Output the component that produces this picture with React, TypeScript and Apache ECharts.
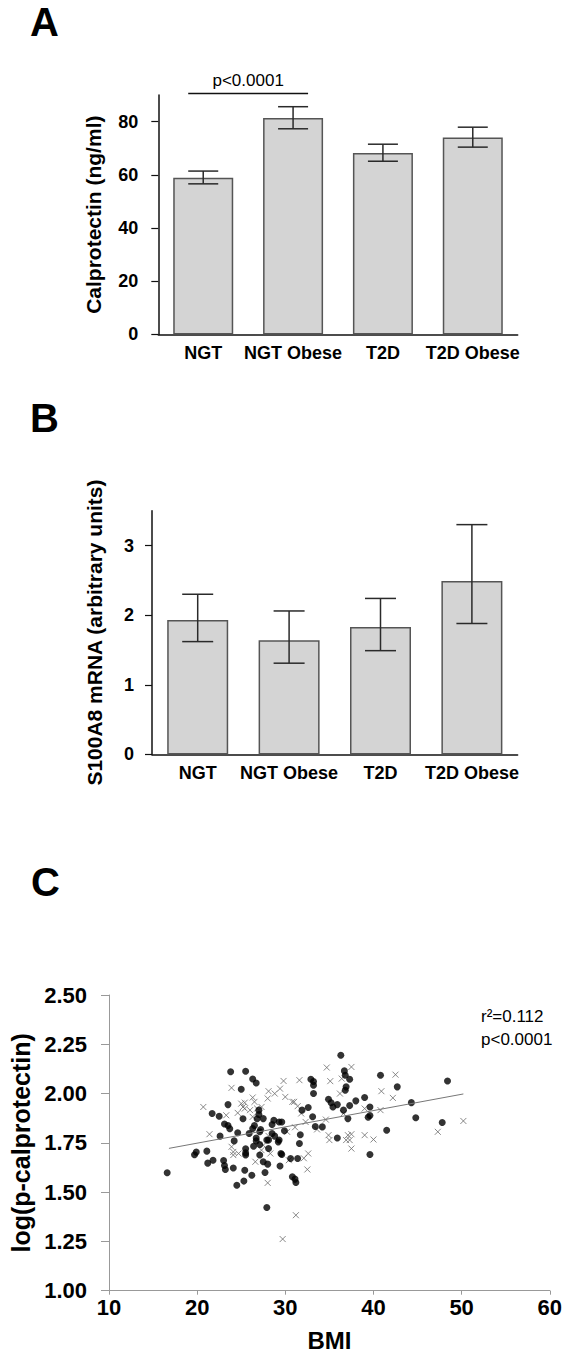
import React, { useEffect, useRef } from 'react';
import * as echarts from 'echarts';

// ---------- Data ----------
const categories = ['NGT', 'NGT Obese', 'T2D', 'T2D Obese'];

// Panel A: plasma calprotectin (ng/ml), mean and error bar ends
const calMean = [58.9, 81.4, 68.2, 74.0];
const calLow = [56.6, 77.3, 65.1, 70.4];
const calHigh = [61.4, 85.6, 71.5, 77.9];
const calTicks = [0, 20, 40, 60, 80];
const sigPair = [0, 1];
const sigLevel = 90.6;
const sigText = 'p<0.0001';

// Panel B: S100A8 mRNA (arbitrary units)
const s100Mean = [1.93, 1.64, 1.83, 2.49];
const s100Low = [1.62, 1.31, 1.49, 1.88];
const s100High = [2.3, 2.06, 2.24, 3.3];
const s100Ticks = [0, 1, 2, 3];

// Panel C: BMI vs log(p-calprotectin)
const bmiDots: number[][] = [
  [16.6, 1.598], [19.7, 1.69], [19.9, 1.703], [21.1, 1.708], [21.2, 1.647], [21.8, 1.662],
  [21.7, 1.899], [22.6, 1.784], [22.5, 1.885], [23.0, 1.66], [23.1, 1.635], [23.2, 1.615],
  [23.1, 1.846], [23.5, 1.838], [23.7, 1.822], [23.5, 1.944], [23.8, 2.111], [24.1, 1.622],
  [24.2, 1.76], [24.5, 1.535], [24.6, 1.801], [25.0, 2.022], [25.2, 1.872], [25.3, 1.556],
  [25.4, 1.611], [25.5, 1.72], [25.5, 1.699], [25.5, 1.688], [25.5, 2.113], [26.2, 1.586],
  [26.3, 2.074], [26.7, 2.054], [25.9, 1.797], [26.3, 1.823], [26.5, 1.838], [26.4, 1.733],
  [26.7, 1.775], [26.7, 1.76], [26.8, 1.872], [27.0, 1.916], [27.0, 1.894], [27.1, 1.688],
  [27.1, 1.806], [27.2, 1.818], [27.1, 1.742], [27.5, 1.654], [27.5, 1.873], [27.7, 1.6],
  [27.9, 1.422], [27.9, 1.764], [28.1, 1.764], [28.0, 1.642], [28.1, 1.721], [28.5, 1.797],
  [28.5, 1.843], [28.7, 1.865], [28.8, 1.784], [29.2, 1.755], [29.3, 1.764], [29.3, 1.856],
  [29.6, 1.856], [29.4, 1.633], [29.5, 1.696], [29.6, 1.691], [29.9, 1.811], [30.6, 1.671],
  [30.8, 1.578], [31.2, 1.549], [31.1, 1.566], [31.4, 1.671], [31.6, 1.747], [31.7, 1.791],
  [31.9, 1.916], [32.6, 1.929], [32.9, 2.073], [33.2, 2.061], [33.2, 2.042], [33.1, 1.882],
  [33.2, 2.0], [33.4, 1.833], [34.2, 1.831], [34.9, 1.971], [35.2, 1.953], [35.4, 1.932],
  [35.9, 1.944], [35.9, 1.775], [36.3, 2.194], [36.6, 1.916], [36.7, 2.115], [36.8, 2.093],
  [36.8, 2.017], [36.9, 2.034], [37.1, 1.873], [37.3, 1.939], [37.3, 2.073], [38.0, 1.963],
  [39.0, 1.98], [39.4, 1.88], [39.6, 1.932], [39.6, 1.889], [39.6, 1.691], [40.8, 2.093],
  [41.5, 1.814], [42.7, 2.034], [44.3, 1.954], [44.8, 1.877], [47.8, 1.853], [48.4, 2.064],
];
const bmiCrosses: number[][] = [
  [20.7, 1.932], [21.4, 1.794], [23.3, 1.89], [23.9, 2.029], [23.9, 1.73], [24.1, 1.704],
  [24.1, 1.688], [24.7, 1.696], [25.0, 1.949], [25.2, 1.932], [25.4, 1.954], [25.4, 1.924],
  [24.6, 1.902], [26.3, 1.98], [26.5, 1.958], [26.0, 1.916], [26.3, 1.882], [26.8, 1.924],
  [26.6, 1.654], [27.3, 1.932], [27.3, 1.713], [27.5, 1.738], [28.0, 1.547], [28.0, 1.975],
  [28.1, 2.012], [28.3, 1.696], [28.1, 1.785], [28.8, 2.0], [29.4, 2.025], [29.8, 2.064],
  [30.0, 1.983], [30.2, 1.806], [30.4, 1.662], [30.8, 1.958], [31.0, 1.958], [31.1, 1.829],
  [31.4, 1.936], [31.6, 2.068], [31.2, 1.383], [29.7, 1.262], [31.8, 1.899], [32.3, 1.856],
  [32.5, 1.615], [32.6, 1.696], [32.1, 1.672], [33.6, 1.818], [34.6, 1.868], [34.7, 2.132],
  [34.9, 1.789], [35.0, 1.764], [35.1, 2.063], [36.2, 2.0], [36.4, 2.076], [36.6, 1.899],
  [36.9, 1.764], [37.1, 1.789], [37.3, 1.764], [37.5, 2.135], [37.5, 1.794], [37.5, 1.721],
  [39.0, 1.789], [39.0, 1.924], [40.0, 1.767], [40.8, 1.916], [40.9, 2.012], [42.2, 1.978],
  [42.5, 2.096], [47.3, 1.806], [50.2, 1.861],
];
const regressionLine: number[][] = [[16.8, 1.722], [50.2, 1.998]];
const statsText = ['r\u00B2=0.112', 'p<0.0001'];
const panelLetters = ['A', 'B', 'C'];

// ---------- Styles ----------
const FONT = '"Liberation Sans", Arial, Helvetica, sans-serif';
const W = 565;
const H = 1362;
const CAP = 30;

function errorBarRender(cap: number) {
  return (params: any, api: any) => {
    const x = api.value(0);
    const lo = api.coord([x, api.value(1)]);
    const hi = api.coord([x, api.value(2)]);
    const half = cap / 2;
    const style = { stroke: '#2a2a2a', lineWidth: 1.5 };
    return {
      type: 'group',
      children: [
        { type: 'line', shape: { x1: lo[0], y1: lo[1], x2: hi[0], y2: hi[1] }, style },
        { type: 'line', shape: { x1: lo[0] - half, y1: lo[1], x2: lo[0] + half, y2: lo[1] }, style },
        { type: 'line', shape: { x1: hi[0] - half, y1: hi[1], x2: hi[0] + half, y2: hi[1] }, style },
      ],
    };
  };
}

function barAxisX(gridIndex: number) {
  return {
    type: 'category',
    gridIndex,
    data: categories,
    boundaryGap: true,
    axisLine: { lineStyle: { color: '#111', width: 1.5 } },
    axisTick: { alignWithLabel: true, length: 6, lineStyle: { color: '#111', width: 1.2 } },
    axisLabel: { color: '#000', fontFamily: FONT, fontWeight: 'bold', fontSize: 18, margin: 10, interval: 0 },
  };
}

function barAxisY(gridIndex: number, max: number, ticks: number[], name: string, nameGap: number, margin: number) {
  return {
    type: 'value',
    gridIndex,
    min: 0,
    max,
    interval: 1,
    name,
    nameLocation: 'middle',
    nameGap,
    nameRotate: 90,
    nameTextStyle: { color: '#000', fontFamily: FONT, fontWeight: 'bold', fontSize: 21 },
    splitLine: { show: false },
    axisLine: { show: true, lineStyle: { color: '#111', width: 1.5 } },
    axisTick: { show: true, length: 7, customValues: ticks, lineStyle: { color: '#111', width: 1.2 } },
    axisLabel: {
      color: '#000', fontFamily: FONT, fontWeight: 'bold', fontSize: 18, margin, customValues: ticks,
    },
  };
}

export default function App() {
  const ref = useRef<HTMLDivElement>(null);

  useEffect(() => {
    document.body.style.margin = '0';
    if (!ref.current) return;
    const chart = echarts.init(ref.current, null, { renderer: 'svg', width: W, height: H });

    const option: any = {
      animation: false,
      backgroundColor: '#fff',
      grid: [
        { left: 158.3, right: W - 517.7, top: 95, bottom: H - 334.4 },
        { left: 152, right: W - 517.6, top: 510.7, bottom: H - 754.4 },
        { left: 106, right: W - 551.6, top: 995, bottom: H - 1290.7 },
      ],
      xAxis: [
        barAxisX(0),
        barAxisX(1),
        {
          type: 'value',
          gridIndex: 2,
          min: 10,
          max: 60,
          interval: 10,
          name: 'BMI',
          nameLocation: 'middle',
          nameGap: 38,
          nameTextStyle: { color: '#000', fontFamily: FONT, fontWeight: 'bold', fontSize: 24 },
          splitLine: { show: false },
          axisLine: { lineStyle: { color: '#999', width: 1 } },
          axisTick: { length: 4, lineStyle: { color: '#999', width: 1 } },
          axisLabel: { color: '#000', fontFamily: FONT, fontWeight: 'bold', fontSize: 22, margin: 6 },
        },
      ],
      yAxis: [
        { ...barAxisY(0, 90, calTicks, 'Calprotectin (ng/ml)', 54, 20), interval: 20 },
        { ...barAxisY(1, 3.5, s100Ticks, 'S100A8 mRNA (arbitrary units)', 47, 18), interval: 1 },
        {
          type: 'value',
          gridIndex: 2,
          min: 1,
          max: 2.5,
          interval: 0.25,
          name: 'log(p-calprotectin)',
          nameLocation: 'middle',
          nameGap: 76,
          nameRotate: 90,
          nameTextStyle: { color: '#000', fontFamily: FONT, fontWeight: 'bold', fontSize: 25 },
          splitLine: { show: false },
          axisLine: { show: true, lineStyle: { color: '#999', width: 1 } },
          axisTick: { show: true, length: 8, lineStyle: { color: '#999', width: 1 } },
          axisLabel: {
            color: '#000', fontFamily: FONT, fontWeight: 'bold', fontSize: 22, margin: 22,
            formatter: (v: number) => v.toFixed(2),
          },
        },
      ],
      series: [
        {
          type: 'bar',
          xAxisIndex: 0,
          yAxisIndex: 0,
          data: calMean,
          barWidth: 60,
          itemStyle: { color: '#d4d4d4', borderColor: '#555', borderWidth: 1.5 },
        },
        {
          type: 'custom',
          xAxisIndex: 0,
          yAxisIndex: 0,
          data: categories.map((_, i) => [i, calLow[i], calHigh[i]]),
          encode: { x: 0, y: [1, 2] },
          renderItem: errorBarRender(CAP),
          z: 5,
        },
        {
          type: 'custom',
          xAxisIndex: 0,
          yAxisIndex: 0,
          clip: false,
          data: [[sigPair[0], sigPair[1], sigLevel]],
          encode: { x: [0, 1], y: 2 },
          renderItem: (params: any, api: any) => {
            const p0 = api.coord([api.value(0), api.value(2)]);
            const p1 = api.coord([api.value(1), api.value(2)]);
            const x0 = p0[0] - CAP / 2;
            const x1 = p1[0] + CAP / 2;
            return {
              type: 'group',
              children: [
                { type: 'line', shape: { x1: x0, y1: p0[1], x2: x1, y2: p0[1] }, style: { stroke: '#111', lineWidth: 1.5 } },
                {
                  type: 'text',
                  x: (x0 + x1) / 2,
                  y: p0[1] - 4,
                  style: {
                    text: sigText, fill: '#000', fontFamily: FONT, fontSize: 17,
                    align: 'center', verticalAlign: 'bottom',
                  },
                },
              ],
            };
          },
          z: 5,
        },
        {
          type: 'bar',
          xAxisIndex: 1,
          yAxisIndex: 1,
          data: s100Mean,
          barWidth: 61,
          itemStyle: { color: '#d4d4d4', borderColor: '#555', borderWidth: 1.5 },
        },
        {
          type: 'custom',
          xAxisIndex: 1,
          yAxisIndex: 1,
          data: categories.map((_, i) => [i, s100Low[i], s100High[i]]),
          encode: { x: 0, y: [1, 2] },
          renderItem: errorBarRender(31),
          z: 5,
        },
        {
          type: 'scatter',
          xAxisIndex: 2,
          yAxisIndex: 2,
          data: bmiCrosses,
          symbol: 'path://M0,0L10,10M10,0L0,10',
          symbolSize: 6,
          itemStyle: { color: 'rgba(0,0,0,0)', borderColor: '#6a6a6a', borderWidth: 1 },
        },
        {
          type: 'line',
          xAxisIndex: 2,
          yAxisIndex: 2,
          data: regressionLine,
          showSymbol: false,
          symbol: 'none',
          lineStyle: { color: '#777', width: 1 },
        },
        {
          type: 'scatter',
          xAxisIndex: 2,
          yAxisIndex: 2,
          data: bmiDots,
          symbol: 'circle',
          symbolSize: 7,
          itemStyle: { color: '#000' },
        },
      ],
      graphic: [
        { type: 'text', x: 30, y: 2, style: { text: panelLetters[0], fill: '#000', fontFamily: FONT, fontWeight: 'bold', fontSize: 40, verticalAlign: 'top' } },
        { type: 'text', x: 30, y: 398, style: { text: panelLetters[1], fill: '#000', fontFamily: FONT, fontWeight: 'bold', fontSize: 40, verticalAlign: 'top' } },
        { type: 'text', x: 31, y: 862, style: { text: panelLetters[2], fill: '#000', fontFamily: FONT, fontWeight: 'bold', fontSize: 40, verticalAlign: 'top' } },
        { type: 'text', x: 481, y: 1016, style: { text: statsText[0], fill: '#000', fontFamily: FONT, fontSize: 17, verticalAlign: 'middle' } },
        { type: 'text', x: 481, y: 1039, style: { text: statsText[1], fill: '#000', fontFamily: FONT, fontSize: 17, verticalAlign: 'middle' } },
      ],
    };

    chart.setOption(option);
    return () => {
      chart.dispose();
    };
  }, []);

  return <div ref={ref} style={{ width: W, height: H }} />;
}
